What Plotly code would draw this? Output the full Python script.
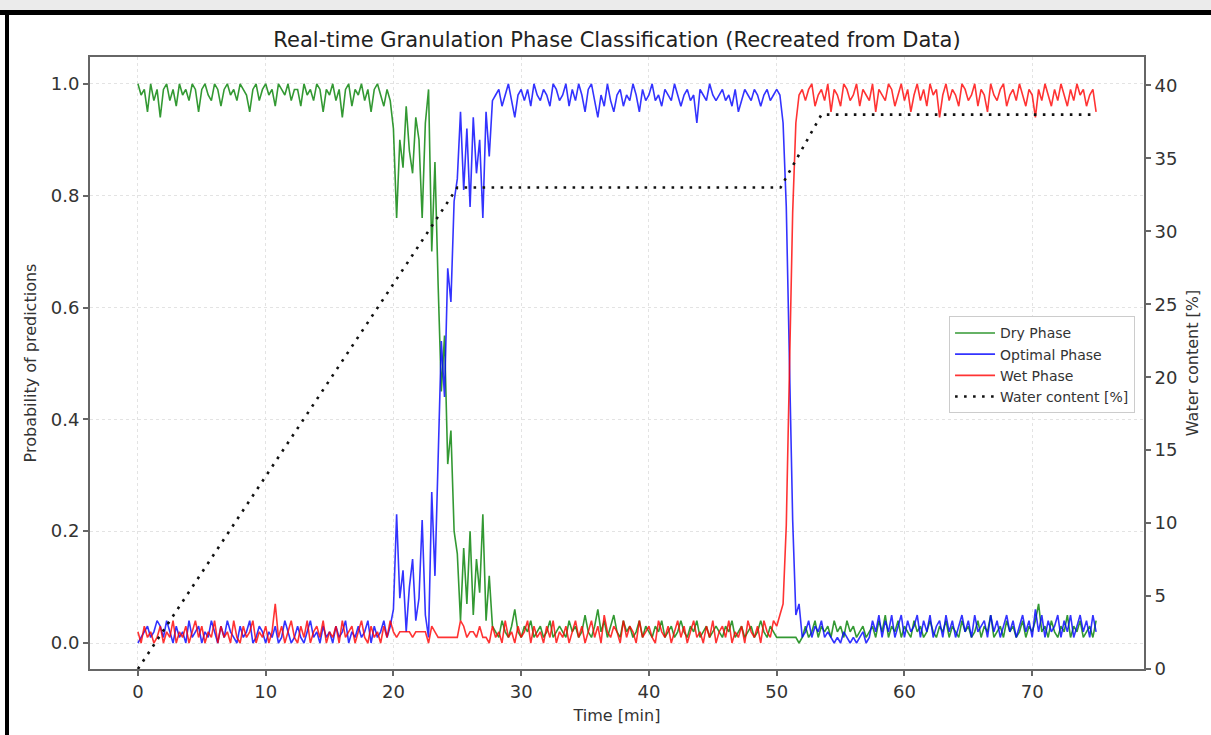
import plotly.graph_objects as go

# ---- data (sampled every 0.25 min, starting at t = 0) ----
t_start = 0.0
t_step = 0.25

dry_phase = [
    1.00, 0.98, 0.99, 0.95, 1.00, 0.97, 0.99, 0.94, 0.99, 1.00,
    0.97, 0.99, 0.96, 1.00, 0.98, 0.99, 0.97, 1.00, 0.99, 0.95,
    0.99, 1.00, 0.98, 0.97, 1.00, 0.99, 0.96, 0.99, 1.00, 0.98,
    0.99, 0.97, 1.00, 0.99, 0.98, 0.95, 0.99, 1.00, 0.97, 0.99,
    1.00, 0.98, 0.99, 0.96, 1.00, 0.99, 0.98, 1.00, 0.97, 0.99,
    0.99, 0.96, 1.00, 0.98, 0.99, 0.97, 1.00, 0.99, 0.95, 0.99,
    0.98, 1.00, 0.97, 0.99, 0.94, 0.99, 1.00, 0.96, 0.99, 0.98,
    1.00, 0.97, 0.99, 0.95, 0.99, 1.00, 0.98, 0.96, 0.99, 0.97,
    0.92, 0.76, 0.90, 0.85, 0.96, 0.88, 0.84, 0.94,
    0.90, 0.76, 0.93, 0.99, 0.70, 0.86, 0.64, 0.45, 0.55, 0.32,
    0.38, 0.20, 0.16, 0.04, 0.17, 0.07, 0.20, 0.05, 0.15, 0.09,
    0.23, 0.04, 0.12, 0.03,
    0.02, 0.01, 0.04, 0.02, 0.01, 0.03, 0.06, 0.02, 0.01, 0.03,
    0.02, 0.04, 0.01, 0.02, 0.03, 0.01, 0.02, 0.04, 0.01, 0.02,
    0.03, 0.02, 0.01, 0.04, 0.02, 0.03, 0.01, 0.02, 0.05, 0.02,
    0.01, 0.03, 0.06, 0.02, 0.04, 0.01, 0.03, 0.05, 0.02, 0.01,
    0.04, 0.02, 0.03, 0.01, 0.02, 0.04, 0.01, 0.03, 0.02, 0.01,
    0.03, 0.02, 0.04, 0.01, 0.02, 0.03, 0.01, 0.02, 0.04, 0.02,
    0.01, 0.03, 0.02, 0.04, 0.01, 0.02, 0.03, 0.01, 0.02, 0.03,
    0.02, 0.01, 0.03, 0.02, 0.04, 0.01, 0.02, 0.03, 0.01, 0.02,
    0.03, 0.01, 0.02, 0.04, 0.02, 0.01, 0.03, 0.02, 0.01, 0.01,
    0.01, 0.01, 0.01, 0.01, 0.01, 0.00, 0.01, 0.03, 0.01, 0.02,
    0.04, 0.01, 0.03, 0.02, 0.03, 0.01, 0.04, 0.02, 0.03, 0.01,
    0.04, 0.02, 0.03, 0.01, 0.02, 0.03, 0.01, 0.02, 0.03, 0.01,
    0.04, 0.02, 0.05, 0.01, 0.03, 0.02, 0.04, 0.01, 0.03, 0.02,
    0.01, 0.04, 0.02, 0.03, 0.01, 0.02, 0.04, 0.02, 0.01, 0.03,
    0.02, 0.04, 0.01, 0.03, 0.02, 0.01, 0.04, 0.02, 0.03, 0.01,
    0.02, 0.04, 0.01, 0.03, 0.02, 0.05, 0.01, 0.02, 0.03, 0.01,
    0.04, 0.02, 0.03, 0.01, 0.02, 0.04, 0.01, 0.03, 0.02, 0.04,
    0.07, 0.02, 0.03, 0.01, 0.04, 0.02, 0.01, 0.03, 0.02, 0.05,
    0.01, 0.03, 0.02, 0.04, 0.01, 0.02, 0.03, 0.01, 0.04,
]

optimal_phase = [
    0.00, 0.01, 0.02, 0.03, 0.01, 0.02, 0.04, 0.03, 0.01, 0.04,
    0.02, 0.00, 0.03, 0.01, 0.02, 0.00, 0.04, 0.01, 0.02, 0.03,
    0.00, 0.02, 0.01, 0.04, 0.02, 0.00, 0.03, 0.01, 0.04, 0.02,
    0.01, 0.00, 0.03, 0.01, 0.02, 0.04, 0.00, 0.01, 0.03, 0.02,
    0.00, 0.02, 0.01, 0.03, 0.00, 0.01, 0.04, 0.02, 0.00, 0.01,
    0.03, 0.01, 0.00, 0.02, 0.04, 0.01, 0.02, 0.00, 0.03, 0.01,
    0.02, 0.00, 0.03, 0.01, 0.02, 0.04, 0.00, 0.02, 0.01, 0.03,
    0.01, 0.02, 0.04, 0.00, 0.03, 0.01, 0.02, 0.04, 0.01, 0.03,
    0.06, 0.23, 0.08, 0.13, 0.02, 0.10, 0.15, 0.04,
    0.08, 0.22, 0.05, 0.01, 0.27, 0.12, 0.35, 0.54, 0.44, 0.67,
    0.61, 0.79, 0.83, 0.95, 0.81, 0.92, 0.78, 0.94, 0.84, 0.90,
    0.76, 0.95, 0.87, 0.97,
    0.98, 0.99, 0.96, 0.98, 1.00, 0.97, 0.94, 0.98, 0.99, 0.97,
    0.99, 0.96, 1.00, 0.98, 0.97, 0.99, 0.98, 0.96, 1.00, 0.99,
    0.97, 0.98, 1.00, 0.96, 0.99, 0.97, 1.00, 0.98, 0.95, 0.99,
    1.00, 0.97, 0.94, 0.98, 0.96, 1.00, 0.97, 0.95, 0.98, 0.99,
    0.96, 0.98, 0.97, 1.00, 0.98, 0.95, 0.99, 0.97, 0.98, 1.00,
    0.97, 0.98, 0.96, 0.99, 0.98, 0.97, 1.00, 0.98, 0.96, 0.98,
    0.99, 0.97, 0.98, 0.93, 0.99, 0.98, 0.97, 1.00, 0.98, 0.97,
    0.98, 0.99, 0.97, 0.98, 0.96, 0.99, 0.95, 0.97, 0.99, 0.98,
    0.97, 0.99, 0.98, 0.96, 0.98, 0.99, 0.97, 0.98, 0.99, 0.98,
    0.93, 0.78, 0.50, 0.22, 0.05, 0.07, 0.01,
    0.02, 0.04, 0.01, 0.03, 0.02, 0.04, 0.01, 0.02, 0.01, 0.00,
    0.01, 0.00, 0.02, 0.01, 0.00, 0.01, 0.00, 0.01, 0.02, 0.00,
    0.01, 0.04, 0.02, 0.05, 0.01, 0.04, 0.02, 0.05, 0.01, 0.03,
    0.05, 0.01, 0.04, 0.02, 0.03, 0.05, 0.01, 0.04, 0.02, 0.05,
    0.01, 0.03, 0.04, 0.01, 0.05, 0.02, 0.04, 0.01, 0.03, 0.05,
    0.02, 0.04, 0.01, 0.05, 0.02, 0.03, 0.04, 0.01, 0.05, 0.02,
    0.04, 0.01, 0.03, 0.05, 0.02, 0.04, 0.01, 0.03, 0.05, 0.02,
    0.04, 0.01, 0.06, 0.02, 0.05, 0.01, 0.04, 0.02, 0.03, 0.05,
    0.01, 0.04, 0.02, 0.05, 0.01, 0.03, 0.05, 0.02, 0.04, 0.01,
    0.05, 0.02,
]

wet_phase = [
    0.02, 0.00, 0.03, 0.01, 0.02, 0.00, 0.01, 0.03, 0.00, 0.02,
    0.01, 0.04, 0.00, 0.02, 0.01, 0.03, 0.00, 0.02, 0.04, 0.01,
    0.03, 0.00, 0.02, 0.01, 0.04, 0.00, 0.03, 0.01, 0.02, 0.00,
    0.04, 0.01, 0.00, 0.03, 0.01, 0.02, 0.04, 0.00, 0.02, 0.01,
    0.03, 0.00, 0.02, 0.07, 0.01, 0.03, 0.00, 0.02, 0.04, 0.01,
    0.00, 0.03, 0.01, 0.04, 0.00, 0.02, 0.03, 0.01, 0.04, 0.00,
    0.02, 0.01, 0.03, 0.00, 0.04, 0.01, 0.02, 0.03, 0.00, 0.02,
    0.04, 0.01, 0.00, 0.03, 0.01, 0.02, 0.00, 0.03, 0.01, 0.04,
    0.02, 0.01, 0.02, 0.02, 0.02, 0.02, 0.01, 0.02, 0.02, 0.02,
    0.02, 0.00, 0.03, 0.02, 0.01, 0.01, 0.01, 0.01, 0.01, 0.01,
    0.01, 0.04, 0.03, 0.01, 0.02, 0.02, 0.01, 0.03, 0.01, 0.01,
    0.00, 0.03, 0.01, 0.02, 0.00, 0.04, 0.01, 0.02, 0.00, 0.03,
    0.01, 0.02, 0.04, 0.00, 0.03, 0.01, 0.02, 0.00, 0.03, 0.01,
    0.04, 0.00, 0.02, 0.01, 0.03, 0.00, 0.02, 0.04, 0.01, 0.03,
    0.00, 0.02, 0.04, 0.01, 0.03, 0.00, 0.05, 0.02, 0.01, 0.03,
    0.02, 0.00, 0.04, 0.01, 0.03, 0.02, 0.00, 0.04, 0.01, 0.02,
    0.03, 0.01, 0.00, 0.04, 0.02, 0.01, 0.03, 0.00, 0.02, 0.04,
    0.01, 0.03, 0.00, 0.02, 0.04, 0.01, 0.02, 0.00, 0.03, 0.01,
    0.04, 0.00, 0.02, 0.03, 0.01, 0.04, 0.00, 0.02, 0.01, 0.03,
    0.00, 0.04, 0.02, 0.01, 0.03, 0.00, 0.04, 0.02, 0.01, 0.04,
    0.03, 0.05, 0.07, 0.21, 0.49, 0.77, 0.93, 0.98, 0.99,
    0.97, 0.99, 1.00, 0.96, 0.98, 0.99, 0.97, 1.00, 0.95, 0.99,
    0.98, 0.96, 1.00, 0.99, 0.97, 0.98, 1.00, 0.96, 0.99, 0.98,
    0.97, 1.00, 0.95, 0.99, 0.98, 0.97, 1.00, 0.99, 0.96, 0.98,
    1.00, 0.97, 0.99, 0.95, 0.98, 1.00, 0.97, 0.99, 0.96, 1.00,
    0.98, 0.99, 0.94, 0.98, 1.00, 0.97, 0.99, 0.98, 0.96, 1.00,
    0.99, 0.97, 0.98, 1.00, 0.96, 0.99, 0.98, 0.95, 1.00, 0.98,
    0.97, 0.99, 1.00, 0.96, 0.98, 0.99, 0.97, 1.00, 0.98, 0.96,
    0.99, 0.98, 0.94, 0.99, 0.97, 1.00, 0.98, 0.96, 0.99, 0.97,
    1.00, 0.98, 0.96, 0.99, 0.97, 1.00, 0.98, 0.99, 0.96, 0.98,
    0.99, 0.95,
]

water_time = [0, 25, 50.3, 53.5, 75]
water_pct = [0, 33, 33, 38, 38]

x_ticks = [0, 10, 20, 30, 40, 50, 60, 70]
y_ticks = [0.0, 0.2, 0.4, 0.6, 0.8, 1.0]
y_tick_labels = ["0.0", "0.2", "0.4", "0.6", "0.8", "1.0"]
y2_ticks = [0, 5, 10, 15, 20, 25, 30, 35, 40]

assert len(dry_phase) == len(optimal_phase) == len(wet_phase) == 301, (
    len(dry_phase), len(optimal_phase), len(wet_phase))

FONT = "DejaVu Sans"
TXT = "#333333"

fig = go.Figure()
series = [
    ("Dry Phase", dry_phase, "rgba(0,128,0,0.8)"),
    ("Optimal Phase", optimal_phase, "rgba(0,0,255,0.8)"),
    ("Wet Phase", wet_phase, "rgba(255,0,0,0.8)"),
]
for name, vals, col in series:
    fig.add_trace(go.Scatter(
        x0=t_start, dx=t_step, y=vals, mode="lines", name=name,
        line=dict(color=col, width=1.6),
    ))

fig.add_trace(go.Scatter(
    x=water_time, y=water_pct, mode="lines", name="Water content [%]",
    yaxis="y2", line=dict(color="#111111", width=2.6, dash="2.6px,6.4px"),
))

# plot area in pixels: x 90..1144, y 57..669
L, R, T, B = 90, 1144, 57, 669
W, H = 1211, 735
pw, ph = R - L, B - T


def px(x):
    return (x - L) / pw


def py(y):
    return (B - y) / ph


axis_common = dict(
    showline=True, linecolor="#666666", linewidth=1.8,
    ticks="outside", ticklen=5, tickwidth=1.5, tickcolor="#666666",
    tickfont=dict(family=FONT, size=18, color=TXT),
    zeroline=False,
)
grid = dict(showgrid=True, gridcolor="#e3e3e3", griddash="3px,3px", gridwidth=1)

fig.update_layout(
    width=W, height=H,
    margin=dict(l=L, r=W - R, t=T, b=H - B, pad=0),
    paper_bgcolor="white", plot_bgcolor="white",
    title=dict(
        text="Real-time Granulation Phase Classification (Recreated from Data)",
        x=px((L + R) / 2), xanchor="center", xref="paper",
        y=1 - 40 / H, yanchor="middle",
        font=dict(family=FONT, size=21, color="#222222"),
    ),
    xaxis=dict(
        range=[-3.75, 78.75], tickvals=x_ticks, mirror=True,
        title=dict(text="Time [min]", font=dict(family=FONT, size=16, color=TXT), standoff=9),
        **grid, **axis_common,
    ),
    yaxis=dict(
        range=[-0.0465, 1.048], tickvals=y_ticks, ticktext=y_tick_labels,
        title=dict(text="Probability of predictions", font=dict(family=FONT, size=16, color=TXT), standoff=10),
        **grid, **axis_common,
    ),
    yaxis2=dict(
        overlaying="y", side="right", range=[0, 41.95], tickvals=y2_ticks,
        showgrid=False,
        title=dict(text="Water content [%]", font=dict(family=FONT, size=16, color=TXT), standoff=10),
        **axis_common,
    ),
    legend=dict(
        x=0.9915, xanchor="right", y=0.497, yanchor="middle",
        bgcolor="white", bordercolor="#cccccc", borderwidth=1,
        font=dict(family=FONT, size=14, color=TXT),
        itemwidth=40, tracegroupgap=0,
    ),
    showlegend=True,
    shapes=[
        dict(type="rect", xref="paper", yref="paper",
             x0=px(0), x1=px(W), y0=py(10), y1=py(0),
             fillcolor="#ebebeb", line=dict(width=0)),
        dict(type="rect", xref="paper", yref="paper",
             x0=px(0), x1=px(W), y0=py(15), y1=py(10),
             fillcolor="black", line=dict(width=0)),
        dict(type="rect", xref="paper", yref="paper",
             x0=px(5), x1=px(9), y0=py(H), y1=py(10),
             fillcolor="black", line=dict(width=0)),
    ],
)

fig.write_html(
    "out.html",
    config={"displayModeBar": False},
    post_script="document.body.style.margin='0px';document.body.style.overflow='hidden';",
)
